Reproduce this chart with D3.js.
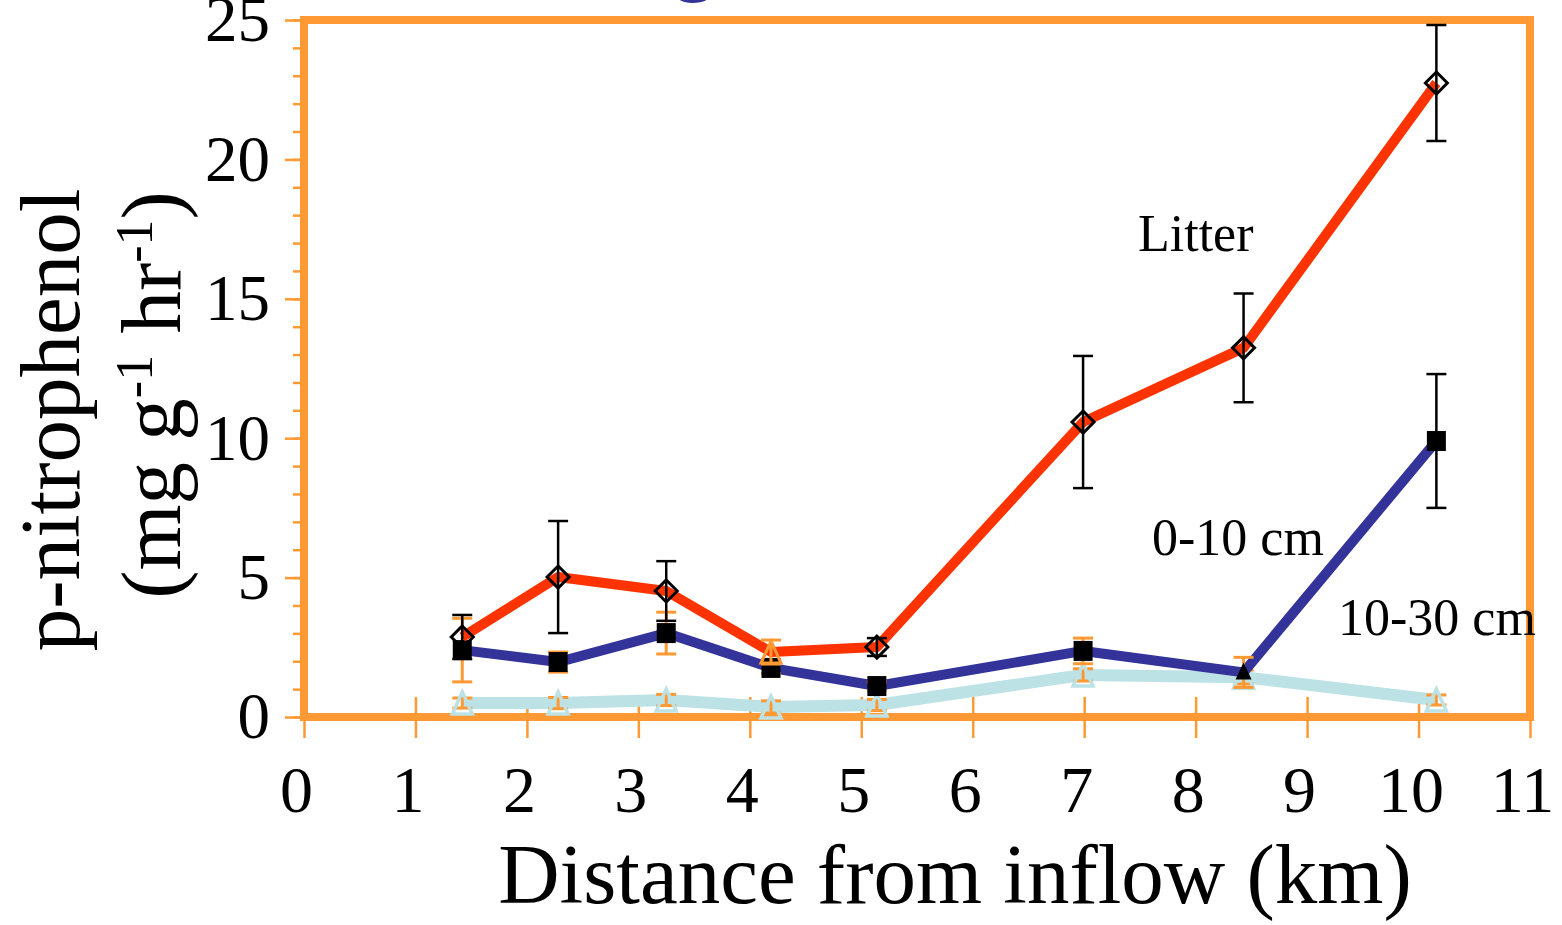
<!DOCTYPE html>
<html>
<head>
<meta charset="utf-8">
<script src="https://cdn.jsdelivr.net/npm/d3@7"></script>
<style>
  body { margin: 0; background: #fff; }
  svg { display: block; font-family: "Liberation Serif", "Times New Roman", serif; }
</style>
</head>
<body>
<div id="chart"></div>
<script>
// distance from inflow (km)
var distance = [1.42, 2.28, 3.25, 4.19, 5.14, 6.99, 8.43, 10.16];

// p-nitrophenol, mean and error
var litter     = [2.87, 5.02, 4.52, 2.33, 2.51, 10.58, 13.24, 22.74];
var litterErr  = [0.79, 2.01, 1.07, 0.43, 0.32, 2.37, 1.95, 2.08];
var top10      = [2.40, 1.97, 3.01, 1.76, 1.11, 2.37, 1.60, 9.90];
var top10Err   = [1.14, 0.36, 0.75, 0.20, 0.15, 0.46, 0.54, 2.40];
var deep30     = [0.50, 0.50, 0.61, 0.36, 0.43, 1.51, 1.43, 0.61];
var deep30Err  = [0.18, 0.20, 0.20, 0.22, 0.20, 0.22, 0.25, 0.18];

var xTicks = d3.range(0, 12);
var yTicks = [0, 5, 10, 15, 20, 25];

var orange = '#ff9933';

var w = 1562, h = 925;

var svg = d3.select('#chart').append('svg')
  .attr('width', w)
  .attr('height', h);

var x = d3.scaleLinear().domain([0, 11]).range([304, 1530]);
var y = d3.scaleLinear().domain([0, 25]).range([717, 20]);

// cut off title at the top
svg.append('text')
  .attr('x', 694)
  .attr('y', -15)
  .attr('text-anchor', 'middle')
  .attr('font-size', 85)
  .attr('fill', '#333399')
  .text('g');

// y axis: minor and major ticks
var yMinor = svg.append('g')
  .attr('transform', 'translate(' + x(0) + ',0)')
  .call(d3.axisLeft(y).tickValues(d3.range(0, 26)).tickSize(11).tickFormat(''));
yMinor.select('.domain').remove();
yMinor.selectAll('line').attr('stroke', orange).attr('stroke-width', 2.5);

var yMajor = svg.append('g')
  .attr('transform', 'translate(' + x(0) + ',0)')
  .call(d3.axisLeft(y).tickValues(yTicks).tickSize(19).tickPadding(15));
yMajor.select('.domain').remove();
yMajor.selectAll('line').attr('stroke', orange).attr('stroke-width', 2.5);
yMajor.selectAll('text')
  .attr('font-family', '"Liberation Serif", "Times New Roman", serif')
  .attr('font-size', 65)
  .attr('fill', '#000');

// x axis, ticks cross the line
var xAxis = svg.append('g')
  .attr('transform', 'translate(0,' + y(0) + ')')
  .call(d3.axisBottom(x).tickValues(xTicks).tickSize(21).tickPadding(27));
xAxis.select('.domain').remove();
xAxis.selectAll('line')
  .attr('y1', -20)
  .attr('stroke', orange)
  .attr('stroke-width', 2.5);
xAxis.selectAll('text')
  .attr('dx', -8)
  .attr('font-family', '"Liberation Serif", "Times New Roman", serif')
  .attr('font-size', 66)
  .attr('fill', '#000');

// frame
svg.append('rect')
  .attr('x', x(0))
  .attr('y', y(25))
  .attr('width', x(11) - x(0))
  .attr('height', y(0) - y(25))
  .attr('fill', 'none')
  .attr('stroke', orange)
  .attr('stroke-width', 8);

var symbols = {
  diamond: 'M0,-11L11,0L0,11L-11,0Z',
  square: 'M-9.5,-10H9.5V10H-9.5Z',
  triangle: 'M0,-11L10,11H-10Z',
  smallTriangle: 'M0,-10L8,7H-8Z'
};

var series = [
  { name: '10-30 cm', values: deep30, err: deep30Err, line: '#bce2e5', width: 12,
    marker: function() { return { d: symbols.triangle, fill: 'none', stroke: '#bce2e5', sw: 3.5 }; },
    errColor: function() { return orange; } },
  { name: '0-10 cm', values: top10, err: top10Err, line: '#333399', width: 10,
    marker: function(i) {
      return i === 6 ? { d: symbols.smallTriangle, fill: '#000', stroke: 'none', sw: 0 }
                     : { d: symbols.square, fill: '#000', stroke: 'none', sw: 0 };
    },
    errColor: function(i) { return i === 7 ? '#000' : orange; } },
  { name: 'Litter', values: litter, err: litterErr, line: '#ff3300', width: 10,
    marker: function(i) {
      return i === 3 ? { d: symbols.triangle, fill: 'none', stroke: orange, sw: 3 }
                     : { d: symbols.diamond, fill: 'none', stroke: '#000', sw: 3 };
    },
    errColor: function(i) { return i === 3 ? orange : '#000'; } }
];

var line = d3.line()
  .x(function(d, i) { return x(distance[i]); })
  .y(function(d) { return y(d); });

series.forEach(function(s) {
  var g = svg.append('g').attr('class', 'series');

  g.append('path')
    .datum(s.values)
    .attr('d', line)
    .attr('fill', 'none')
    .attr('stroke', s.line)
    .attr('stroke-width', s.width)
    .attr('stroke-linejoin', 'round');

  var marks = g.selectAll('.mark')
    .data(s.values)
    .enter().append('g')
    .attr('class', 'mark')
    .attr('transform', function(d, i) { return 'translate(' + x(distance[i]) + ',' + y(d) + ')'; });

  // error bars, markers drawn on top
  marks.each(function(d, i) {
    var e = s.err[i];
    var c = s.errColor(i);
    var sw = c === orange ? 3 : 2.5;
    var top = y(d + e) - y(d);
    var bot = y(Math.max(0, d - e)) - y(d);
    var m = d3.select(this);
    m.append('line').attr('x1', 0).attr('x2', 0).attr('y1', top).attr('y2', bot)
      .attr('stroke', c).attr('stroke-width', sw);
    m.append('line').attr('x1', -10).attr('x2', 10).attr('y1', top).attr('y2', top)
      .attr('stroke', c).attr('stroke-width', sw);
    m.append('line').attr('x1', -10).attr('x2', 10).attr('y1', bot).attr('y2', bot)
      .attr('stroke', c).attr('stroke-width', sw);
  });

  marks.append('path')
    .attr('d', function(d, i) { return s.marker(i).d; })
    .attr('fill', function(d, i) { return s.marker(i).fill; })
    .attr('stroke', function(d, i) { return s.marker(i).stroke; })
    .attr('stroke-width', function(d, i) { return s.marker(i).sw; });
});

// series labels
var labels = [
  { text: 'Litter', x: 1138, y: 251 },
  { text: '0-10 cm', x: 1152, y: 555 },
  { text: '10-30 cm', x: 1338, y: 635 }
];
svg.selectAll('.label')
  .data(labels)
  .enter().append('text')
  .attr('class', 'label')
  .attr('x', function(d) { return d.x; })
  .attr('y', function(d) { return d.y; })
  .attr('font-size', 52)
  .attr('fill', '#000')
  .text(function(d) { return d.text; });

// axis titles
svg.append('text')
  .attr('x', 955)
  .attr('y', 903)
  .attr('text-anchor', 'middle')
  .attr('font-size', 85)
  .attr('fill', '#000')
  .text('Distance from inflow (km)');

svg.append('text')
  .attr('transform', 'translate(79,420) rotate(-90)')
  .attr('text-anchor', 'middle')
  .attr('font-size', 85)
  .attr('fill', '#000')
  .text('p-nitrophenol');

var unit = svg.append('text')
  .attr('transform', 'translate(180,395) rotate(-90)')
  .attr('text-anchor', 'middle')
  .attr('font-size', 85)
  .attr('fill', '#000');
unit.append('tspan').text('(mg g');
unit.append('tspan').attr('font-size', 52).attr('dy', -28).text('-1');
unit.append('tspan').attr('dy', 28).text(' hr');
unit.append('tspan').attr('font-size', 52).attr('dy', -28).text('-1');
unit.append('tspan').attr('dy', 28).text(')');
</script>
</body>
</html>
